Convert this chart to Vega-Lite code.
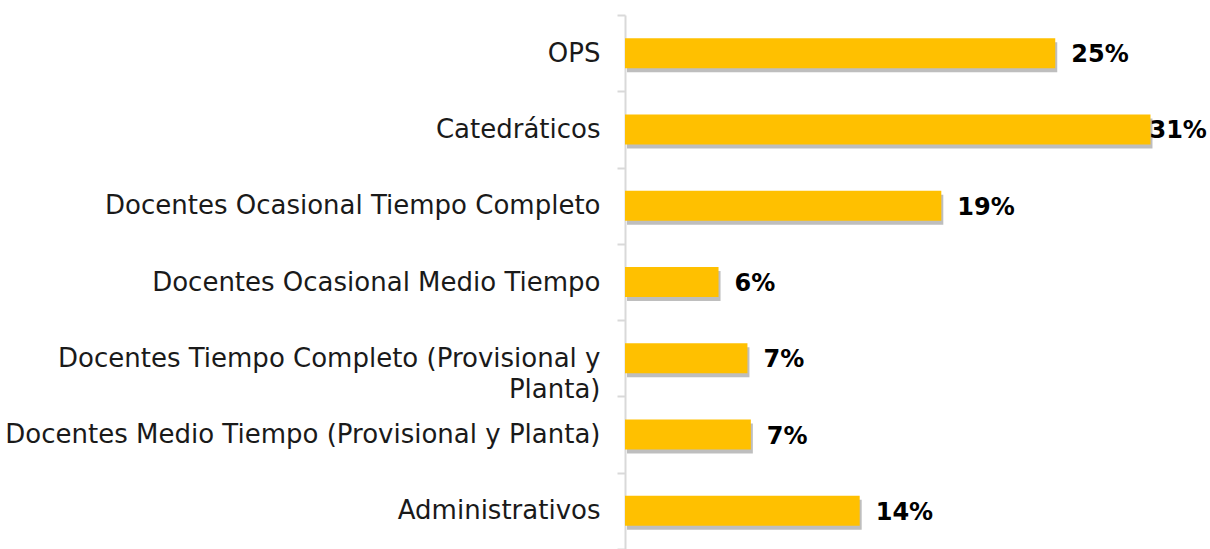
{
  "$schema": "https://vega.github.io/schema/vega-lite/v6.json",
  "autosize": "none",
  "width": 585,
  "height": 534,
  "padding": {"left": 625, "top": 15, "right": 0, "bottom": 0},
  "background": "white",
  "config": {"view": {"stroke": null}},
  "data": {
    "values": [
      {"categoria": "OPS", "valor": 25.3, "etiqueta": "25%"},
      {"categoria": "Catedráticos", "valor": 30.9, "etiqueta": "31%"},
      {"categoria": "Docentes Ocasional Tiempo Completo", "valor": 18.6, "etiqueta": "19%"},
      {"categoria": "Docentes Ocasional Medio Tiempo", "valor": 5.5, "etiqueta": "6%"},
      {"categoria": "Docentes Tiempo Completo (Provisional y Planta)", "valor": 7.2, "etiqueta": "7%"},
      {"categoria": "Docentes Medio Tiempo (Provisional y Planta)", "valor": 7.4, "etiqueta": "7%"},
      {"categoria": "Administrativos", "valor": 13.8, "etiqueta": "14%"}
    ]
  },
  "encoding": {
    "y": {
      "field": "categoria",
      "type": "nominal",
      "sort": null,
      "scale": {"paddingInner": 0, "paddingOuter": 0},
      "axis": {
        "title": null,
        "domainColor": "#d9d9d9",
        "domainWidth": 2,
        "tickColor": "#d9d9d9",
        "tickWidth": 2,
        "tickSize": 8,
        "tickBand": "extent",
        "labelFont": "DejaVu Sans",
        "labelFontSize": 26,
        "labelColor": "#1a1a1a",
        "labelPadding": 17,
        "labelLimit": 700,
        "labelLineHeight": 31,
        "labelExpr": "datum.label == 'Docentes Tiempo Completo (Provisional y Planta)' ? ['Docentes Tiempo Completo (Provisional y', 'Planta)'] : datum.label"
      }
    },
    "x": {
      "field": "valor",
      "type": "quantitative",
      "scale": {"domain": [0, 34.4]},
      "axis": null
    }
  },
  "layer": [
    {
      "mark": {"type": "bar", "size": 30, "color": "#6f6f6f", "opacity": 0.45, "yOffset": 4, "xOffset": 2, "x2Offset": 2}
    },
    {
      "mark": {"type": "bar", "size": 30, "color": "#FFC000"}
    },
    {
      "transform": [{"calculate": "min(datum.valor, 29.9)", "as": "posicion"}],
      "mark": {"type": "text", "align": "left", "baseline": "middle", "dx": 16, "dy": 2, "font": "DejaVu Sans", "fontWeight": "bold", "fontSize": 24, "color": "#000000"},
      "encoding": {
        "x": {"field": "posicion", "type": "quantitative"},
        "text": {"field": "etiqueta"}
      }
    }
  ]
}
